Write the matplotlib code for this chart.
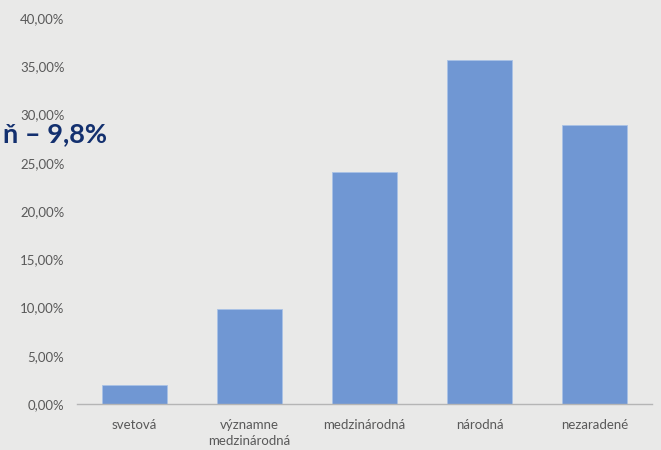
import matplotlib.pyplot as plt
from matplotlib.ticker import FuncFormatter

plt.rcParams['font.family'] = ['Lato', 'DejaVu Sans']

categories = ['svetová', 'významne\nmedzinárodná', 'medzinárodná', 'národná', 'nezaradené']
values = [2.0, 9.8, 24.0, 35.6, 28.9]
yticks = [0, 5, 10, 15, 20, 25, 30, 35, 40]

bg = '#e9e9e8'
fig = plt.figure(figsize=(6.61, 4.5), dpi=100, facecolor=bg)
ax = fig.add_axes([77 / 661, 46 / 450, 575 / 661, 386 / 450])
ax.set_facecolor(bg)

x = range(len(categories))
ax.bar(x, values, width=0.56, color='#7097d3', edgecolor='#a9c2e6', linewidth=0.6, zorder=2)

ax.set_xlim(-0.5, len(categories) - 0.5)
ax.set_ylim(0, 40)
ax.set_yticks(yticks)
ax.yaxis.set_major_formatter(FuncFormatter(lambda v, p: f'{v:.2f}'.replace('.', ',') + '%'))
ax.set_xticks(list(x))
ax.set_xticklabels(categories, fontsize=9.5, color='#595959', linespacing=1.4)
ax.tick_params(axis='y', labelsize=9.5, labelcolor='#595959', length=0, pad=9)
ax.tick_params(axis='x', length=0, pad=11)

for s in ['top', 'right', 'left']:
    ax.spines[s].set_visible(False)
ax.spines['bottom'].set_color('#b5b5b5')
ax.spines['bottom'].set_linewidth(1)

fig.text(107 / 661, 1 - 134 / 450, 'ň – 9,8%', ha='right', va='center',
         fontsize=19.5, fontweight='bold', color='#13306f')

fig.savefig('out.png', dpi=100, facecolor=bg)
